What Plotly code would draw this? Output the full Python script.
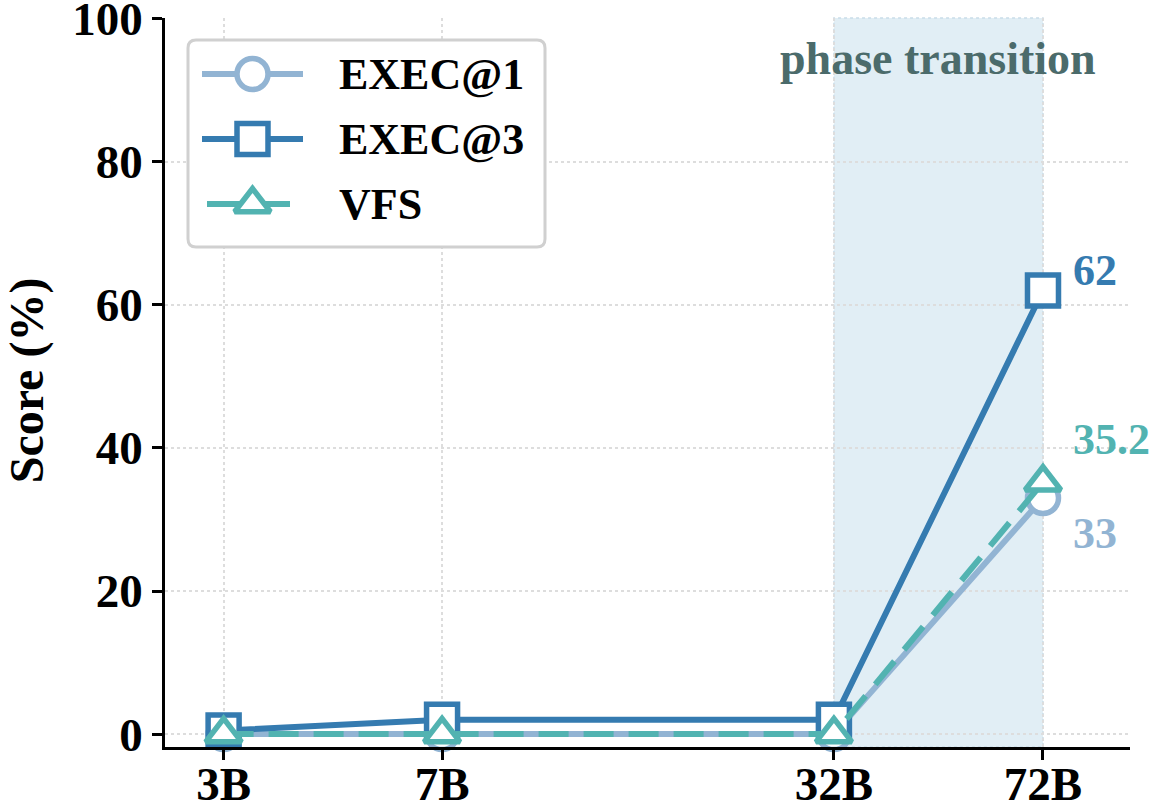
import numpy as np
import plotly.graph_objects as go

sizes = [3, 7, 32, 72]
size_labels = ["3B", "7B", "32B", "72B"]
exec1 = [0.0, 0.0, 0.0, 33.0]
exec3 = [0.5, 2.0, 2.0, 62.0]
vfs = [0.0, 0.0, 0.0, 35.2]
y_ticks = [0, 20, 40, 60, 80, 100]
series_names = ["EXEC@1", "EXEC@3", "VFS"]

C1 = "#92b4d3"
C3 = "#357bb0"
CV = "#52b3b1"
FONT = "Liberation Serif"

# plot-area pixel geometry
W, H = 1151, 811
L, R, T, B = 165, 21, 18, 64
PW, PH = W - L - R, H - T - B

fig = go.Figure()
fig.add_vrect(x0=32, x1=72, fillcolor="#e1eef5", opacity=1, layer="below",
              line=dict(color="#c9dde9", width=1.5, dash="dot"))

styles = [
    dict(color=C1, symbol="circle", dash="solid"),
    dict(color=C3, symbol="square", dash="solid"),
    dict(color=CV, symbol="triangle-up", dash="30px,15px"),
]
values = [exec1, exec3, vfs]

for name, y, st in zip(series_names, values, styles):
    fig.add_trace(go.Scatter(
        x=sizes, y=y, name=name, mode="lines+markers", showlegend=False,
        line=dict(color=st["color"], width=6, dash=st["dash"]),
        marker=dict(symbol=st["symbol"], size=31, color="white",
                    line=dict(color=st["color"], width=5.5)),
        cliponaxis=False))

# value labels at the last point
for val, col, dy in [(exec3[-1], C3, 20), (vfs[-1], CV, 43), (exec1[-1], C1, -35)]:
    fig.add_annotation(x=np.log10(sizes[-1]), y=val, text=f"<b>{val:g}</b>",
                       showarrow=False, xanchor="left", yanchor="middle",
                       xshift=28, yshift=dy,
                       font=dict(family=FONT, size=44, color=col))

fig.add_annotation(x=(np.log10(32) + np.log10(72)) / 2, y=94.4,
                   text="<b>phase transition</b>", showarrow=False,
                   xanchor="center", yanchor="middle",
                   font=dict(family=FONT, size=46, color="#4b6b6b"))

# y-axis title
fig.add_annotation(xref="paper", yref="paper", x=0, y=0.503, xshift=27 - L,
                   text="<b>Score (%)</b>", textangle=-90, showarrow=False,
                   xanchor="center", yanchor="middle",
                   font=dict(family=FONT, size=48, color="black"))

# custom legend drawn on a separate small axis in pixel units
LX0, LX1, LY0, LY1 = 188, 545, 40, 247
PAD = 4
leg_rows = [74, 139, 204]
rad = 8
path = (f"M {LX0+rad},{LY0} L {LX1-rad},{LY0} Q {LX1},{LY0} {LX1},{LY0+rad} "
        f"L {LX1},{LY1-rad} Q {LX1},{LY1} {LX1-rad},{LY1} L {LX0+rad},{LY1} "
        f"Q {LX0},{LY1} {LX0},{LY1-rad} L {LX0},{LY0+rad} Q {LX0},{LY0} {LX0+rad},{LY0} Z")
fig.add_shape(type="path", path=path, xref="x2", yref="y2",
              fillcolor="white", line=dict(color="#d0d0d0", width=3),
              layer="below")
seg = [(202, 303), (202, 303), (207, 290)]
for name, st, yrow, (sx0, sx1) in zip(series_names, styles, leg_rows, seg):
    dash = "35px,18px" if st["dash"] != "solid" else "solid"
    fig.add_trace(go.Scatter(
        x=[sx0, sx1], y=[yrow, yrow], mode="lines", xaxis="x2", yaxis="y2",
        showlegend=False, hoverinfo="skip",
        line=dict(color=st["color"], width=6, dash=dash)))
    fig.add_trace(go.Scatter(
        x=[(202 + 303) / 2], y=[yrow], mode="markers", xaxis="x2", yaxis="y2",
        showlegend=False, hoverinfo="skip",
        marker=dict(symbol=st["symbol"], size=31, color="white",
                    line=dict(color=st["color"], width=5.5))))
    fig.add_annotation(xref="x2", yref="y2", x=337, y=yrow, text=f"<b>{name}</b>",
                       showarrow=False, xanchor="left", yanchor="middle",
                       font=dict(family=FONT, size=44, color="black"))

fig.update_layout(
    width=W, height=H,
    margin=dict(l=L, r=R, t=T, b=B, autoexpand=False),
    plot_bgcolor="rgba(0,0,0,0)", paper_bgcolor="white",
    font=dict(family=FONT, size=46, color="black"),
    showlegend=False,
    xaxis2=dict(domain=[(LX0 - PAD - L) / PW, (LX1 + PAD - L) / PW],
                range=[LX0 - PAD, LX1 + PAD], anchor="y2",
                visible=False, fixedrange=True),
    yaxis2=dict(domain=[(T + PH - LY1 - PAD) / PH, (T + PH - LY0 + PAD) / PH],
                range=[LY1 + PAD, LY0 - PAD], anchor="x2",
                visible=False, fixedrange=True),
)
fig.update_layout(xaxis=dict(
    type="log", range=[np.log10(2.39), np.log10(100.9)],
    tickvals=sizes, ticktext=[f"<b>{t}</b>" for t in size_labels],
    showline=True, linecolor="black", linewidth=2.5,
    ticks="outside", ticklen=10, tickwidth=2.5, tickcolor="black",
    showgrid=True, gridcolor="#dddddd", griddash="dot", gridwidth=1.5,
    tickfont=dict(family=FONT, size=47, color="black"),
    ticklabelstandoff=-16, ticklabeloverflow="allow",
    zeroline=False, automargin=False))
fig.update_layout(yaxis=dict(
    range=[-1.8, 100.1], tickvals=y_ticks,
    ticktext=[f"<b>{t}</b>" for t in y_ticks],
    showline=True, linecolor="black", linewidth=2.5,
    ticks="outside", ticklen=10, tickwidth=2.5, tickcolor="black",
    showgrid=True, gridcolor="#dddddd", griddash="dot", gridwidth=1.5,
    tickfont=dict(family=FONT, size=47, color="black"),
    ticklabeloverflow="allow",
    zeroline=False, automargin=False))

fig.write_html("out.html")
